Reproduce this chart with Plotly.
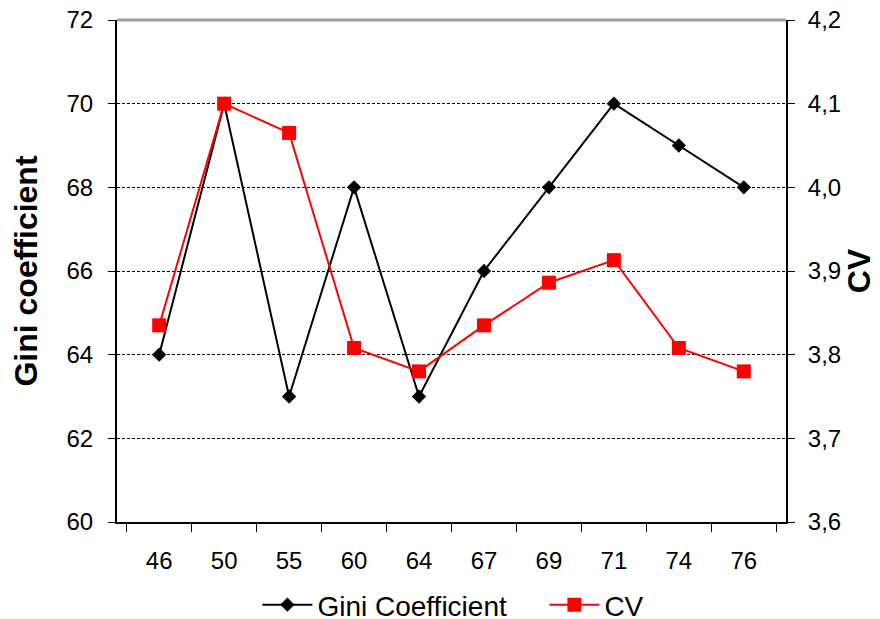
import plotly.graph_objects as go

categories = ["46", "50", "55", "60", "64", "67", "69", "71", "74", "76"]
gini = [64, 70, 63, 68, 63, 66, 68, 70, 69, 68]
cv = [3.835, 4.10, 4.065, 3.808, 3.780, 3.835, 3.886, 3.913, 3.808, 3.780]
left_ticks = [60, 62, 64, 66, 68, 70, 72]
right_ticks = [3.6, 3.7, 3.8, 3.9, 4.0, 4.1, 4.2]
right_labels = [f"{v:.1f}".replace(".", ",") for v in right_ticks]

FONT = "Liberation Sans, Arial, sans-serif"

fig = go.Figure()
fig.add_trace(go.Scatter(
    x=categories, y=gini, name="Gini Coefficient", mode="lines+markers",
    line=dict(color="black", width=2),
    marker=dict(symbol="diamond", size=11, color="black"),
    yaxis="y",
))
fig.add_trace(go.Scatter(
    x=categories, y=cv, name="CV", mode="lines+markers",
    line=dict(color="#ff0000", width=2),
    marker=dict(symbol="square", size=14, color="#ff0000"),
    yaxis="y2",
))

fig.update_layout(
    width=872, height=611,
    margin=dict(l=109, r=94, t=12, b=97),
    paper_bgcolor="white", plot_bgcolor="white",
    font=dict(family=FONT, size=24, color="black"),
    showlegend=True,
    legend=dict(orientation="h", xref="container", x=0.286, xanchor="left",
                yref="container", y=0.023, yanchor="middle",
                font=dict(size=28), traceorder="normal", entrywidth=222, itemwidth=50),
    xaxis=dict(
        type="category", showgrid=False, showline=True, linecolor="black", linewidth=2,
        ticks="outside", ticklen=8, tickcolor="black", tickson="boundaries",
        tickfont=dict(size=24), ticklabelstandoff=16, automargin=False,
    ),
    yaxis=dict(
        range=[60, 72], tickvals=left_ticks, ticktext=[str(v) for v in left_ticks],
        showline=True, linecolor="black", linewidth=2, ticks="outside", ticklen=7,
        tickcolor="black", showgrid=True, gridcolor="black", griddash="3px,2px", gridwidth=1,
        ticklabelstandoff=10, ticklabeloverflow="allow", automargin=False,
        title=dict(text="<b>Gini coefficient</b>", font=dict(size=32), standoff=23),
        zeroline=False,
    ),
    yaxis2=dict(
        range=[3.6, 4.2], tickvals=right_ticks, ticktext=right_labels,
        overlaying="y", side="right", showline=True, linecolor="black", linewidth=2,
        ticks="outside", ticklen=7, tickcolor="black", showgrid=False,
        ticklabelstandoff=8, ticklabeloverflow="allow", automargin=False,
        title=dict(text="<b>CV</b>", font=dict(size=32), standoff=7),
        zeroline=False,
    ),
    shapes=[dict(type="line", xref="paper", yref="paper", x0=0, x1=1, y0=1, y1=1,
                 line=dict(color="#a0a0a0", width=3))],
)

fig.write_html("out.html")
